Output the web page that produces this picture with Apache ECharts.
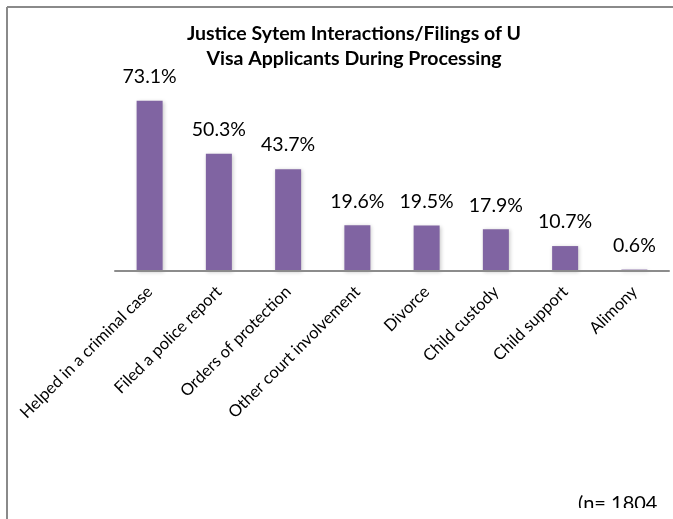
<!DOCTYPE html>
<html>
<head>
<meta charset="utf-8">
<script src="https://cdn.jsdelivr.net/npm/echarts@6/dist/echarts.min.js"></script>
<style>
  html, body { margin: 0; padding: 0; background: #fff; }
  #chart { width: 673px; height: 519px; }
</style>
</head>
<body>
<div id="chart"></div>
<script>
// Justice system interactions reported by U visa applicants (percent)
const categories = [
  'Helped in a criminal case',
  'Filed a police report',
  'Orders of protection',
  'Other court involvement',
  'Divorce',
  'Child custody',
  'Child support',
  'Alimony'
];
const percents = [73.1, 50.3, 43.7, 19.6, 19.5, 17.9, 10.7, 0.6];
const titleLines = ['Justice Sytem Interactions/Filings of U', 'Visa Applicants During Processing'];
const sampleNote = '(n= 1804';

const FONT = 'Lato, "Open Sans", sans-serif';

const chart = echarts.init(document.getElementById('chart'), null, { renderer: 'canvas' });

chart.setOption({
  animation: false,
  backgroundColor: '#ffffff',
  title: {
    text: titleLines.join('\n'),
    left: 349,
    textAlign: 'center',
    top: 16,
    textStyle: {
      fontFamily: FONT,
      fontSize: 19.5,
      fontWeight: 'bold',
      color: '#000000',
      lineHeight: 25
    }
  },
  grid: { left: 115, right: 4, top: 38, bottom: 248, containLabel: false },
  xAxis: {
    type: 'category',
    data: categories,
    z: 5,
    axisTick: { show: false },
    axisLine: { lineStyle: { color: '#8c8c8c', width: 2 } },
    axisLabel: {
      rotate: 45,
      interval: 0,
      margin: 18,
      fontFamily: FONT,
      fontSize: 16.5,
      color: '#000000'
    }
  },
  yAxis: {
    type: 'value',
    min: 0,
    max: 100,
    show: false,
    splitLine: { show: false }
  },
  series: [{
    type: 'bar',
    data: percents,
    barWidth: 26,
    itemStyle: {
      color: '#8064A2',
      shadowColor: 'rgba(0,0,0,0.22)',
      shadowBlur: 4,
      shadowOffsetX: 1,
      shadowOffsetY: 1
    },
    label: {
      show: true,
      position: 'top',
      distance: 14,
      formatter: p => p.value.toFixed(1) + '%',
      fontFamily: FONT,
      fontSize: 19.5,
      color: '#000000'
    }
  }],
  graphic: [
    // frame edges
    { type: 'line', shape: { x1: 7, y1: 7, x2: 673, y2: 7 }, style: { stroke: '#8a8a8a', lineWidth: 2 } },
    { type: 'line', shape: { x1: 7, y1: 7, x2: 7, y2: 519 }, style: { stroke: '#8a8a8a', lineWidth: 2 } },
    // sample size note, cut off by the frame below
    {
      type: 'text',
      left: 578,
      top: 494,
      style: { text: sampleNote, fontFamily: FONT, fontSize: 20, fill: '#000000' },
      z: 10
    },
    { type: 'rect', shape: { x: 560, y: 508, width: 113, height: 11 }, style: { fill: '#ffffff' }, z: 11 }
  ]
});
</script>
</body>
</html>
